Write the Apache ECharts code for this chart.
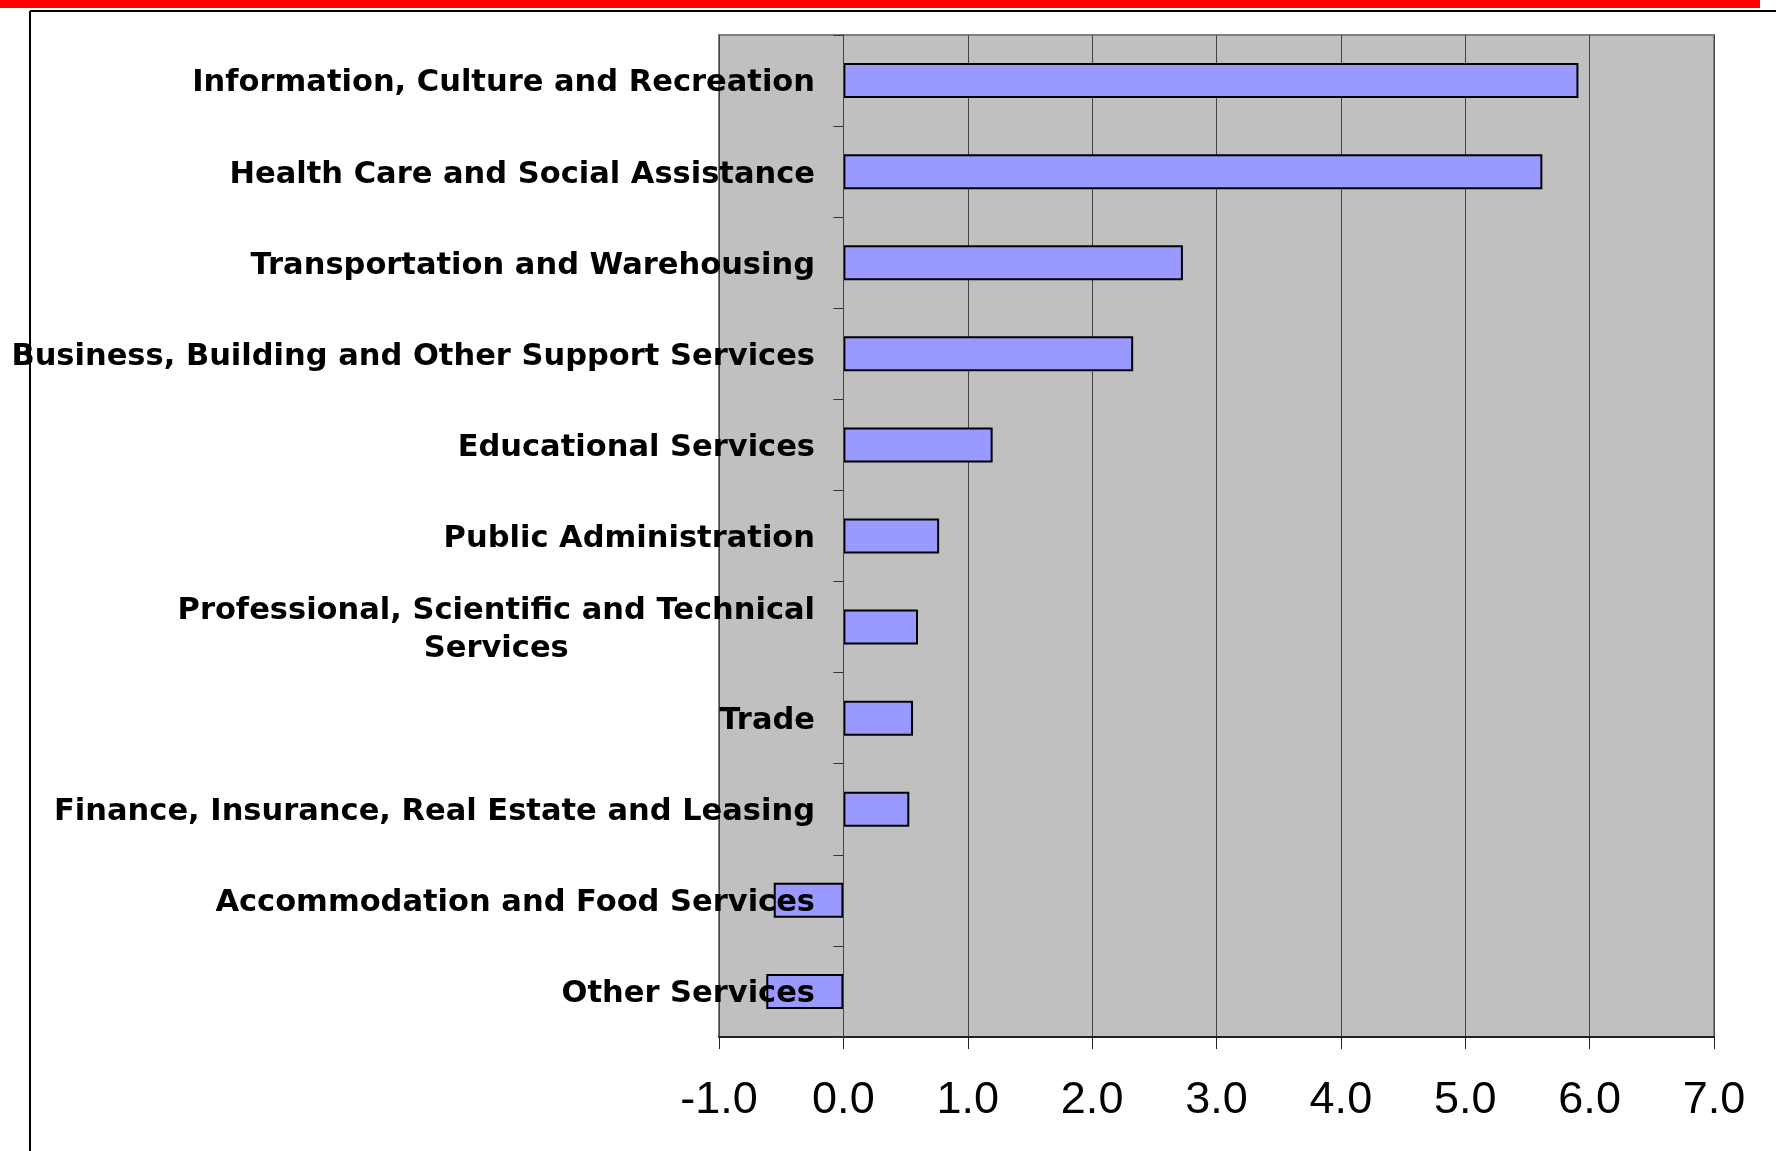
<!DOCTYPE html>
<html>
<head>
<meta charset="utf-8">
<script src="https://cdn.jsdelivr.net/npm/echarts@6/dist/echarts.min.js"></script>
<style>
html,body{margin:0;padding:0;background:#fff;}
#chart{width:1776px;height:1151px;}
</style>
</head>
<body>
<div id="chart"></div>
<script>
const categories = [
  "Information, Culture and Recreation",
  "Health Care and Social Assistance",
  "Transportation and Warehousing",
  "Business, Building and Other Support Services",
  "Educational Services",
  "Public Administration",
  "Professional, Scientific and Technical\nServices",
  "Trade",
  "Finance, Insurance, Real Estate and Leasing",
  "Accommodation and Food Services",
  "Other Services"
];
const values = [5.91, 5.62, 2.73, 2.33, 1.20, 0.77, 0.60, 0.56, 0.53, -0.56, -0.62];
const xMin = -1, xMax = 7, xStep = 1;

const labelFont = 'DejaVu Sans';
const chart = echarts.init(document.getElementById('chart'), null, {renderer: 'canvas'});
chart.setOption({
  animation: false,
  backgroundColor: '#ffffff',
  graphic: [
    {type: 'rect', shape: {x: 0, y: 0, width: 1760, height: 8}, style: {fill: '#ff0000'}, z: 10},
    {type: 'rect', shape: {x: 0, y: 12, width: 9, height: 1139}, style: {fill: '#ffffff'}, z: 100},
    {type: 'line', shape: {x1: 30, y1: 11, x2: 1776, y2: 11}, style: {stroke: '#000', lineWidth: 2}, z: 10},
    {type: 'line', shape: {x1: 30, y1: 11, x2: 30, y2: 1151}, style: {stroke: '#000', lineWidth: 2}, z: 10}
  ],
  grid: {
    left: 719, right: 62, top: 35, bottom: 114,
    show: true, backgroundColor: '#c0c0c0', borderColor: '#808080', borderWidth: 2,
    containLabel: false, outerBoundsMode: 'none'
  },
  xAxis: {
    type: 'value', min: xMin, max: xMax, interval: xStep,
    axisLine: {show: true, lineStyle: {color: '#222', width: 2}},
    axisTick: {show: true, length: 12, lineStyle: {color: '#222', width: 1}},
    splitLine: {show: true, lineStyle: {color: '#444', width: 1}},
    axisLabel: {
      margin: 41, fontSize: 45, color: '#000', fontFamily: 'Liberation Sans',
      formatter: v => v.toFixed(1)
    }
  },
  yAxis: {
    type: 'category', inverse: true, data: categories, z: 10,
    axisLine: {show: true, onZero: true, lineStyle: {color: '#444', width: 1}},
    axisTick: {show: true, length: 10, alignWithLabel: false, lineStyle: {color: '#333', width: 1}},
    splitLine: {show: false},
    axisLabel: {
      margin: -96, fontSize: 30.5, fontWeight: 'bold', color: '#000', fontFamily: labelFont,
      lineHeight: 38, padding: [6, 0, 0, 0],
      formatter: v => v.split('\n').map(s => '{c|' + s + '}').join('\n'),
      rich: {c: {fontSize: 30.5, fontWeight: 'bold', color: '#000', fontFamily: labelFont, align: 'center', lineHeight: 38}}
    }
  },
  series: [{
    type: 'bar', data: values, barWidth: 35, z: 2,
    itemStyle: {color: '#9999ff', borderColor: '#000', borderWidth: 2}
  }]
});
</script>
</body>
</html>
